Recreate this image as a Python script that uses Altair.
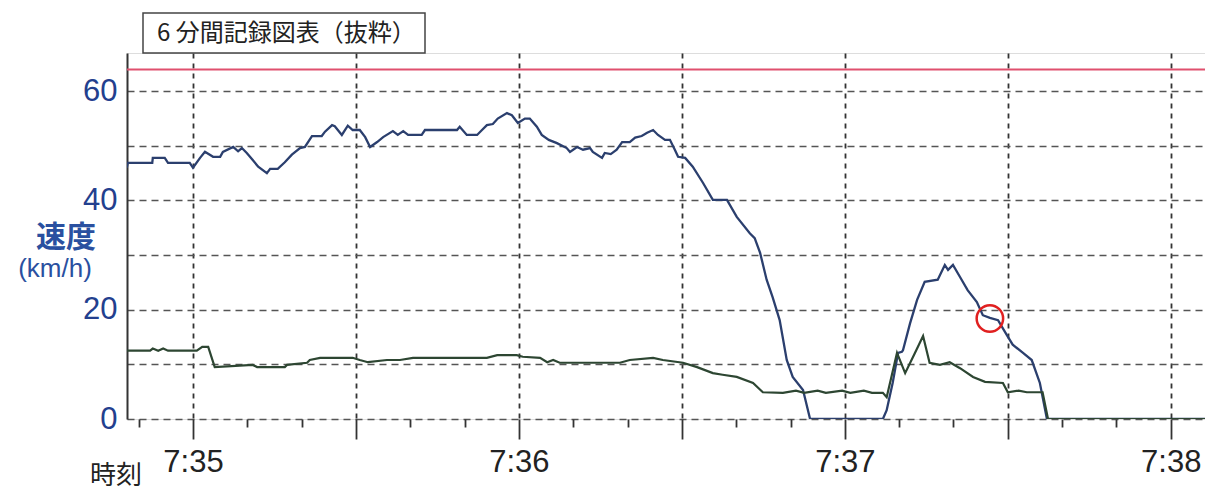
import altair as alt
import pandas as pd

BASE = 7 * 3600 + 35 * 60  # 7:35:00 in seconds of day

# speed trace (seconds after 7:35:00, km/h)
blue_t = [-12.2, -12.0, -7.5, -7.4, -6.1, -5.2, -4.6, -0.6, 0.0, 1.3, 2.2, 3.7, 5.0, 5.5, 7.4, 8.3,
          9.0, 9.9, 11.0, 12.0, 13.6, 14.2, 15.6, 16.9, 18.2, 19.7, 20.6, 21.9, 23.7, 24.3, 25.6,
          26.1, 27.4, 28.5, 29.4, 30.7, 31.7, 32.6, 33.9, 35.0, 36.8, 37.7, 38.7, 39.6, 40.3,
          42.1, 42.7, 48.6, 49.1, 50.4, 52.3, 53.2, 54.1, 55.2, 56.1, 57.8, 58.7, 59.8, 61.1,
          62.0, 63.3, 64.2, 65.5, 67.0, 68.8, 69.4, 70.7, 71.8, 73.1, 73.6, 75.3, 75.8, 76.9,
          78.0, 79.0, 80.4, 81.4, 82.6, 83.6, 84.7, 85.6, 86.9, 87.8, 88.7, 89.3, 90.6, 92.0,
          93.9, 95.7, 98.3, 100.1, 102.5, 103.4, 104.4, 105.6, 106.7, 108.0, 109.3, 110.4,
          112.3, 113.6, 127.0, 127.7, 128.8, 129.8, 130.5, 130.7, 132.0, 133.3, 134.7, 137.1,
          138.4, 139.0, 139.9, 141.2, 142.6, 144.3, 145.4, 146.7, 148.2, 149.8, 150.9, 152.8,
          154.4, 155.9, 157.2, 187.0]
blue_v = [46.0, 46.9, 46.9, 47.8, 47.8, 47.8, 46.9, 46.9, 46.0, 47.8, 48.9, 48.0, 48.0, 48.9, 49.8, 49.0,
          49.6, 48.7, 47.4, 46.2, 45.0, 45.8, 45.8, 47.0, 48.4, 49.6, 49.8, 51.8, 51.8, 52.6, 53.8,
          53.6, 52.0, 53.7, 52.9, 52.9, 51.6, 49.8, 50.7, 51.6, 52.7, 52.0, 52.7, 52.0, 52.0,
          52.0, 52.9, 52.9, 53.5, 52.0, 52.0, 52.9, 53.8, 54.0, 55.0, 56.0, 55.6, 54.2, 55.0,
          55.0, 53.5, 52.0, 51.1, 50.5, 49.6, 48.9, 49.8, 49.3, 49.6, 48.9, 47.8, 48.7, 48.5,
          49.3, 50.7, 50.7, 51.5, 51.8, 52.4, 52.9, 52.0, 51.1, 51.1, 49.3, 48.0, 47.8, 46.2,
          43.2, 40.1, 40.1, 37.0, 34.0, 33.1, 30.4, 25.5, 22.3, 18.1, 10.8, 7.7,
          5.3, 0.0, 0.0, 1.6, 6.6, 12.1, 12.3, 12.6, 17.5, 21.8, 25.1, 25.5,
          28.2, 27.3, 28.2, 26.0, 23.6, 21.4, 19.0, 18.5, 18.1, 15.4, 13.6, 12.1,
          10.8, 6.6, 0.0, 0.0]

# second trace (seconds after 7:35:00, km/h)
green_t = [-12.2, -7.9, -7.4, -6.4, -5.5, -4.6, 0.7, 1.7, 2.8, 4.0, 11.0, 11.8, 16.9, 17.3, 21.0, 21.5,
           23.4, 29.4, 30.7, 32.2, 35.7, 38.1, 40.5, 54.1, 56.0, 59.6, 60.7, 63.9, 65.2, 66.3,
           67.5, 74.9, 78.6, 80.4, 84.7, 86.5, 90.2, 92.8, 95.7, 97.5, 100.1, 103.1, 104.9,
           108.6, 111.0, 112.5, 115.0, 116.5, 119.5, 121.0, 123.5, 125.0, 127.0, 127.7, 129.6,
           131.1, 132.9, 134.4, 135.6, 137.5, 139.3, 141.2, 143.6, 145.8, 149.1, 150.0, 152.0,
           153.5, 156.4, 157.4, 187.0]
green_v = [12.5, 12.5, 12.9, 12.5, 12.9, 12.5, 12.5, 13.2, 13.2, 9.5, 9.9, 9.5, 9.5, 9.9, 10.3, 10.8,
           11.2, 11.2, 10.8, 10.4, 10.8, 10.8, 11.2, 11.2, 11.7, 11.7, 11.4, 11.2, 10.4, 10.8,
           10.3, 10.3, 10.3, 10.8, 11.2, 10.8, 10.3, 9.5, 8.4, 8.1, 7.7, 6.6, 4.9,
           4.8, 5.2, 4.8, 5.2, 4.8, 5.2, 4.8, 5.2, 4.8, 4.8, 4.0, 12.1,
           8.4, 12.1, 15.2, 10.3, 9.9, 10.4, 9.3, 7.7, 6.8, 6.6, 4.9, 5.2,
           4.9, 4.9, 0.0, 0.0]

limit_v = [64]
mark_t = [146.7]
mark_v = [18.4]

x_values = [BASE + s for s in range(-10, 190, 5)]
y_values = [0, 10, 20, 30, 40, 50, 60]

NUM_FONT = "Liberation Sans, Arial, sans-serif"
JP_FONT = "Noto Sans CJK JP"

blue_df = pd.DataFrame({"t": [BASE + s for s in blue_t], "v": blue_v})
green_df = pd.DataFrame({"t": [BASE + s for s in green_t], "v": green_v})

x_enc = alt.X(
    "t:Q",
    scale=alt.Scale(domain=[BASE - 12.15, BASE + 186.3], nice=False, zero=False),
    axis=alt.Axis(
        values=x_values, title=None, domain=False, grid=True,
        gridDash=[5, 5], gridColor="#333333", gridWidth=1.8,
        gridOpacity={"condition": {"test": "datum.value % 15 == 0", "value": 1}, "value": 0},
        tickSize={"condition": {"test": "datum.value % 15 == 0", "value": 20}, "value": 8},
        tickColor="#333333", tickWidth=1.8,
        labelExpr="datum.value % 60 == 0 ? floor(datum.value / 3600) + ':' + format(floor((datum.value % 3600) / 60), '02d') : ''",
        labelOverlap=False, labelFlush=False,
        labelFont=NUM_FONT, labelFontSize=31, labelColor="#222222", labelPadding=8,
    ),
)
y_enc = alt.Y(
    "v:Q",
    scale=alt.Scale(domain=[0, 67], nice=False),
    axis=alt.Axis(
        values=y_values, title=None, ticks=False, domain=True,
        domainColor="#333333", domainWidth=2,
        grid=True, gridDash=[7, 5], gridColor="#555555", gridWidth=1.5,
        labelExpr="datum.value % 20 == 0 ? datum.label : ''",
        labelFont=NUM_FONT, labelFontSize=31, labelColor="#23408e", labelPadding=10,
    ),
)

blue = alt.Chart(blue_df).mark_line(color="#2b3f6e", strokeWidth=2.3, clip=True).encode(x=x_enc, y=y_enc)
green = alt.Chart(green_df).mark_line(color="#2d4632", strokeWidth=2.2, clip=True).encode(x="t:Q", y="v:Q")
limit = alt.Chart(pd.DataFrame({"v": limit_v})).mark_rule(color="#e0506e", strokeWidth=2).encode(y="v:Q")
circle = alt.Chart(pd.DataFrame({"t": [BASE + s for s in mark_t], "v": mark_v})).mark_point(
    shape="circle", size=700, filled=False, stroke="#e02020", strokeWidth=2.5, opacity=1
).encode(x="t:Q", y="v:Q")

one = pd.DataFrame({"a": [0]})
box = alt.Chart(one).mark_rect(fill="white", stroke="#444444", strokeWidth=1.5).encode(
    x=alt.value(16), x2=alt.value(298), y=alt.value(-40), y2=alt.value(0)
)
box_text = alt.Chart(one).mark_text(align="left", baseline="middle", fontSize=24, font=JP_FONT, color="#222222").encode(
    x=alt.value(30), y=alt.value(-19), text=alt.value("6 分間記録図表（抜粋）")
)
ytitle1 = alt.Chart(one).mark_text(align="center", baseline="middle", fontSize=30, fontWeight="bold", font=JP_FONT, color="#2a50a0").encode(
    x=alt.value(-61), y=alt.value(185), text=alt.value("速度")
)
ytitle2 = alt.Chart(one).mark_text(align="center", baseline="middle", fontSize=26, font=NUM_FONT, color="#2a50a0").encode(
    x=alt.value(-72), y=alt.value(216), text=alt.value("(km/h)")
)
xtitle = alt.Chart(one).mark_text(align="center", baseline="middle", fontSize=26, font=JP_FONT, color="#222222").encode(
    x=alt.value(-11), y=alt.value(423), text=alt.value("時刻")
)

chart = alt.layer(blue, green, limit, circle, box, box_text, ytitle1, ytitle2, xtitle).properties(
    width=1078, height=366,
    autosize=alt.AutoSizeParams(type="none"),
    padding={"left": 119, "top": 45, "right": 0, "bottom": 72},
).configure_view(stroke=None).configure(background="white")

chart.save("out.html", embed_options={"renderer": "svg", "actions": False})
